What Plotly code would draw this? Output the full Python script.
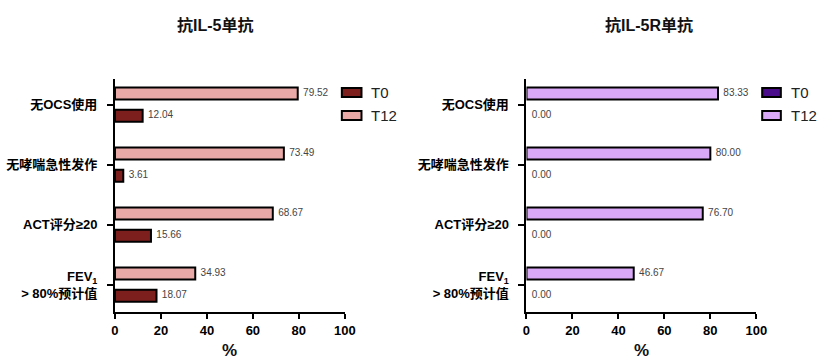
import plotly.graph_objects as go

W, H = 838, 364

categories = ["无OCS使用", "无哮喘急性发作", "ACT评分≥20", "FEV<sub>1</sub><br>&gt; 80%预计值"]
series_names = ["T0", "T12"]
panel_titles = ["抗IL-5单抗", "抗IL-5R单抗"]

il5_t0 = [12.04, 3.61, 15.66, 18.07]
il5_t12 = [79.52, 73.49, 68.67, 34.93]
il5r_t0 = [0.00, 0.00, 0.00, 0.00]
il5r_t12 = [83.33, 80.00, 76.70, 46.67]

x_ticks = [0, 20, 40, 60, 80, 100]

colors = [
    {"T0": "#7c1f1d", "T12": "#e8a9a7"},
    {"T0": "#4a0c8a", "T12": "#d9a8f6"},
]

FONT = "Liberation Sans, Arial, Noto Sans CJK SC, sans-serif"


def px_x(p):
    return p / W


def px_y(p):
    return 1 - p / H


fig = go.Figure()

pos = list(range(len(categories)))
OFF = {"T12": -0.19, "T0": 0.18}
BW = 0.2

panels = [
    ("x", "y", il5_t0, il5_t12),
    ("x2", "y2", il5r_t0, il5r_t12),
]

for i, (xa, ya, t0, t12) in enumerate(panels):
    for name, vals in (("T12", t12), ("T0", t0)):
        fig.add_trace(go.Bar(
            x=vals, y=pos, orientation="h", name=name,
            xaxis=xa, yaxis=ya,
            width=BW, offset=OFF[name] - BW / 2,
            marker=dict(color=colors[i][name],
                        line=dict(color="#000", width=[2 if v > 0 else 0 for v in vals])),
            showlegend=False, hoverinfo="x",
        ))
        fig.add_trace(go.Scatter(
            x=vals, y=[p + OFF[name] for p in pos], mode="markers+text",
            marker=dict(size=7, color="rgba(0,0,0,0)"),
            text=[f"{v:.2f}" for v in vals], textposition="middle right",
            textfont=dict(family=FONT, size=10, color="#444"),
            xaxis=xa, yaxis=ya, showlegend=False, hoverinfo="skip",
            cliponaxis=False,
        ))

xdoms = [[px_x(113), px_x(347)], [px_x(532), px_x(766)]]
ydom = [px_y(312), px_y(79)]

axis_common_x = dict(
    range=[0, 100], tickvals=x_ticks, ticks="outside", ticklen=5, tickwidth=2,
    tickcolor="#000", showline=True, linecolor="#000", linewidth=2,
    showgrid=False, zeroline=False,
    tickfont=dict(family=FONT, size=13, color="#000", weight="bold"),
    fixedrange=True,
)
axis_common_y = dict(
    range=[3.45, -0.43], tickvals=pos, ticktext=categories, ticks="outside",
    ticklen=6, tickwidth=2, tickcolor="#000", showline=True, linecolor="#000",
    linewidth=2, showgrid=False, zeroline=False,
    tickfont=dict(family=FONT, size=13, color="#000", weight="bold"),
    ticklabelstandoff=7, fixedrange=True,
)

fig.update_layout(
    width=W, height=H, autosize=False,
    margin=dict(l=0, r=0, t=0, b=0),
    paper_bgcolor="#fff", plot_bgcolor="rgba(0,0,0,0)",
    barmode="overlay",
    showlegend=False,
    xaxis=dict(domain=xdoms[0], anchor="y", **axis_common_x),
    yaxis=dict(domain=ydom, anchor="x", **axis_common_y),
    xaxis2=dict(domain=xdoms[1], anchor="y2", **axis_common_x),
    yaxis2=dict(domain=ydom, anchor="x2", **axis_common_y),
    font=dict(family=FONT),
)

annotations = []
shapes = []
title_x = [215, 657]
pct_x = [230, 649]
legend_box_x = [(344, 364), (772, 791)]
legend_text_x = [372, 799]
legend_rows = [(88, 97, 92), (111, 120, 115)]

for i in range(2):
    annotations.append(dict(
        text=panel_titles[i], x=px_x(title_x[i]), y=px_y(25), xref="paper", yref="paper",
        showarrow=False, xanchor="center", yanchor="middle",
        font=dict(family=FONT, size=16, color="#111", weight="bold"),
    ))
    annotations.append(dict(
        text="%", x=px_x(pct_x[i]), y=px_y(350), xref="paper", yref="paper",
        showarrow=False, xanchor="center", yanchor="middle",
        font=dict(family=FONT, size=17, color="#111", weight="bold"),
    ))
    for (y0, y1, yc), name in zip(legend_rows, series_names):
        x0, x1 = legend_box_x[i]
        shapes.append(dict(
            type="rect", xref="paper", yref="paper",
            x0=px_x(x0), x1=px_x(x1), y0=px_y(y1), y1=px_y(y0),
            fillcolor=colors[i][name], line=dict(color="#000", width=2),
        ))
        annotations.append(dict(
            text=name, x=px_x(legend_text_x[i]), y=px_y(yc), xref="paper", yref="paper",
            showarrow=False, xanchor="left", yanchor="middle",
            font=dict(family=FONT, size=15, color="#222"),
        ))

fig.update_layout(annotations=annotations, shapes=shapes)

fig.write_html(
    "out.html",
    config={"responsive": False, "displayModeBar": False},
    post_script="document.body.style.margin='0';document.body.style.overflow='hidden';",
)
